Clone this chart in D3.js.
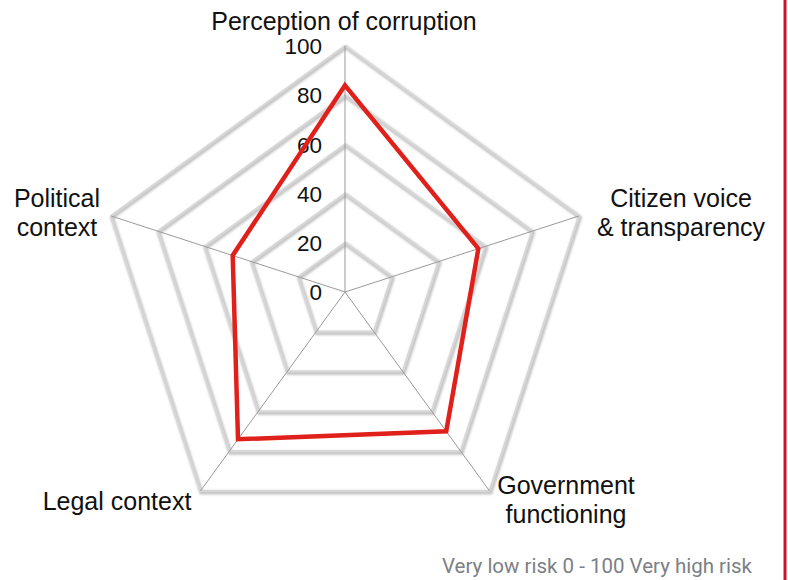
<!DOCTYPE html>
<html><head><meta charset="utf-8">
<script src="https://cdn.jsdelivr.net/npm/d3@7"></script>
<style>body{margin:0;background:#fff}svg{display:block}</style>
</head><body>
<svg id="c" width="788" height="580"></svg>
<script>
const categories = ["Perception of corruption","Citizen voice & transparency","Government functioning","Legal context","Political context"];
const labelLines = [["Perception of corruption"],["Citizen voice","& transparency"],["Government","functioning"],["Legal context"],["Political","context"]];
const values = [84, 57, 70, 74, 48];
const ticks = [0, 20, 40, 60, 80, 100];
const footer = "Very low risk 0 - 100 Very high risk";

const svg = d3.select("#c");
const cx = 345, cy = 292, R = 246;
const r = d3.scaleLinear().domain([0,100]).range([0,R]);
const n = categories.length;
const ang = d3.scaleLinear().domain([0,n]).range([0, 2*Math.PI]);
const pt = (i, v) => [cx + r(v)*Math.sin(ang(i)), cy - r(v)*Math.cos(ang(i))];

const defs = svg.append("defs");
const f = defs.append("filter").attr("id","soft").attr("x","-10%").attr("y","-10%").attr("width","120%").attr("height","120%");
f.append("feGaussianBlur").attr("stdDeviation",1.2);

const line = d3.line();
const gridG = svg.append("g");
ticks.filter(t=>t>0).forEach(t=>{
  const pts = d3.range(n).map(i=>pt(i,t));
  gridG.append("path").attr("d", line(pts)+"Z").attr("fill","none")
    .attr("stroke","#c4c4c4").attr("stroke-width",4).attr("filter","url(#soft)")
    .attr("transform","translate(1,1.5)");
  gridG.append("path").attr("d", line(pts)+"Z").attr("fill","none")
    .attr("stroke","#d6d6d6").attr("stroke-width",2);
});
d3.range(n).forEach(i=>{
  const p = pt(i,100);
  svg.append("line").attr("x1",cx).attr("y1",cy).attr("x2",p[0]).attr("y2",p[1])
    .attr("stroke","#9a9a9a").attr("stroke-width",1);
});

svg.append("g").selectAll("text").data(ticks).join("text")
  .attr("x", 322).attr("y", d=>cy - r(d)).attr("dy","0.36em")
  .attr("text-anchor","end").attr("font-family","Liberation Sans, Arial, sans-serif")
  .attr("font-size",22.5).attr("fill","#111").text(d=>d);

svg.append("path").attr("d", line(values.map((v,i)=>pt(i,v)))+"Z")
  .attr("fill","none").attr("stroke","#e0201b").attr("stroke-width",4.5).attr("stroke-linejoin","miter");

const labelPos = [[344,30],[681,207],[566,494],[117,510],[57,207]];
labelLines.forEach((lines,i)=>{
  const t = svg.append("text").attr("text-anchor","middle")
    .attr("font-family","Liberation Sans, Arial, sans-serif").attr("font-size",25).attr("fill","#111");
  lines.forEach((l,j)=>{
    t.append("tspan").attr("x",labelPos[i][0]).attr("y",labelPos[i][1]+j*29).text(l);
  });
});

svg.append("text").attr("x",752).attr("y",573).attr("text-anchor","end")
  .attr("font-family","Roboto, sans-serif").attr("font-size",20.5).attr("fill","#7b8085").text(footer);

svg.append("line").attr("x1",785).attr("x2",785).attr("y1",0).attr("y2",580)
  .attr("stroke","#cc1428").attr("stroke-width",3);
</script>
</body></html>
